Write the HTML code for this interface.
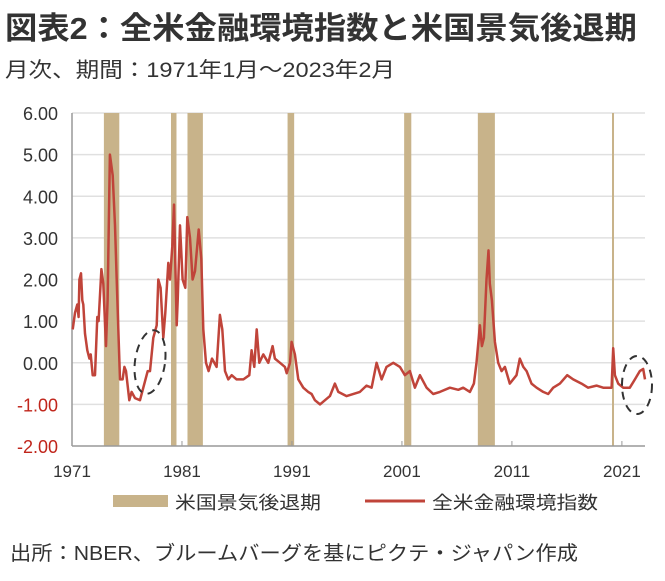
<!DOCTYPE html>
<html><head><meta charset="utf-8"><style>
body{margin:0;background:#fff}
svg{display:block;font-family:"Liberation Sans","Noto Sans CJK JP",sans-serif}
</style></head><body>
<svg id="chart" width="665" height="581" viewBox="0 0 665 581" xmlns="http://www.w3.org/2000/svg">
<text x="5" y="39" font-size="31" font-weight="bold" fill="#333" textLength="632" lengthAdjust="spacingAndGlyphs">図表2：全米金融環境指数と米国景気後退期</text>
<text x="5" y="77" font-size="21" fill="#333" textLength="390" lengthAdjust="spacingAndGlyphs">月次、期間：1971年1月～2023年2月</text>
<g id="grid"></g><g id="bands"></g><g id="axes"></g><g id="series"></g>
<ellipse cx="150" cy="362" rx="15" ry="32" transform="rotate(8 150 362)" fill="none" stroke="#333" stroke-width="2" stroke-dasharray="8,6"/>
<ellipse cx="637" cy="385" rx="15" ry="29" fill="none" stroke="#333" stroke-width="2" stroke-dasharray="8,6"/>
<g>
<rect x="113" y="495" width="55" height="12" fill="#c8b38a"/>
<text x="175" y="509" font-size="18" fill="#333" textLength="146" lengthAdjust="spacingAndGlyphs">米国景気後退期</text>
<line x1="365" y1="501" x2="425" y2="501" stroke="#c0443a" stroke-width="3"/>
<text x="432" y="509" font-size="18" fill="#333" textLength="166" lengthAdjust="spacingAndGlyphs">全米金融環境指数</text>
</g>
<text x="10" y="560" font-size="20" fill="#333" textLength="568" lengthAdjust="spacingAndGlyphs">出所：NBER、ブルームバーグを基にピクテ・ジャパン作成</text>
</svg>
<script>
const yTicks=[6,5,4,3,2,1,0,-1,-2];
const yTickLabels=["6.00","5.00","4.00","3.00","2.00","1.00","0.00","-1.00","-2.00"];
const xTicks=[1971,1981,1991,2001,2011,2021];
const recStart=[1973.9,1980.0,1981.5,1990.6,2001.2,2007.9,2020.1];
const recEnd=[1975.3,1980.5,1982.9,1991.2,2001.85,2009.45,2020.25];
const dates=[1971.06,1971.27,1971.48,1971.6,1971.67,1971.82,1971.94,1972.03,1972.18,1972.39,1972.58,1972.7,1972.88,1973.09,1973.3,1973.42,1973.67,1973.85,1974.09,1974.24,1974.45,1974.7,1974.91,1975.06,1975.24,1975.36,1975.6,1975.76,1975.91,1976.21,1976.42,1976.73,1977.18,1977.48,1977.88,1978.09,1978.39,1978.7,1978.85,1979.06,1979.3,1979.48,1979.76,1979.91,1980.12,1980.27,1980.52,1980.61,1980.82,1981.06,1981.3,1981.48,1981.73,1981.97,1982.18,1982.52,1982.76,1982.94,1983.18,1983.42,1983.73,1984.15,1984.45,1984.67,1984.91,1985.21,1985.52,1985.97,1986.58,1987.12,1987.33,1987.58,1987.79,1988.03,1988.39,1988.85,1989.24,1989.45,1989.91,1990.36,1990.52,1990.82,1990.97,1991.27,1991.58,1992.03,1992.48,1992.79,1993.09,1993.55,1994.0,1994.45,1994.9,1995.21,1995.97,1997.18,1997.78,1998.24,1998.7,1999.15,1999.6,2000.21,2000.81,2001.27,2001.72,2002.18,2002.63,2003.24,2003.84,2004.45,2005.36,2006.12,2006.57,2007.18,2007.54,2007.78,2008.09,2008.27,2008.45,2008.69,2008.87,2008.99,2009.18,2009.45,2009.75,2010.06,2010.36,2010.81,2011.42,2011.72,2012.03,2012.33,2012.78,2013.24,2013.84,2014.3,2014.75,2015.36,2016.03,2016.57,2017.33,2017.93,2018.69,2019.3,2020.06,2020.21,2020.36,2020.66,2021.12,2021.72,2022.18,2022.63,2022.94,2023.1];
const values=[0.8,1.2,1.4,1.1,2.0,2.15,1.5,1.4,0.7,0.3,0.1,0.2,-0.3,-0.3,1.1,1.0,2.25,1.9,0.4,1.5,5.0,4.5,3.3,2.0,0.6,-0.4,-0.4,-0.1,-0.2,-0.9,-0.7,-0.85,-0.9,-0.6,-0.2,-0.2,0.6,0.9,2.0,1.8,0.6,1.2,2.4,2.0,2.8,3.8,0.9,1.5,3.3,2.0,1.8,3.5,3.0,2.0,2.2,3.2,2.5,0.8,0.0,-0.2,0.1,-0.1,1.15,0.8,-0.2,-0.4,-0.3,-0.4,-0.4,-0.3,0.3,-0.1,0.8,0.0,0.2,0.0,0.4,0.1,0.0,-0.1,-0.25,0.0,0.5,0.2,-0.4,-0.6,-0.7,-0.75,-0.9,-1.0,-0.9,-0.8,-0.5,-0.7,-0.8,-0.7,-0.55,-0.6,0.0,-0.4,-0.1,0.0,-0.1,-0.3,-0.2,-0.6,-0.3,-0.6,-0.75,-0.7,-0.6,-0.65,-0.6,-0.7,-0.5,0.0,0.9,0.4,0.6,2.0,2.7,1.9,1.5,0.5,0.0,-0.2,-0.1,-0.5,-0.3,0.1,-0.1,-0.2,-0.5,-0.6,-0.7,-0.75,-0.6,-0.5,-0.3,-0.4,-0.5,-0.6,-0.55,-0.6,-0.6,0.35,-0.3,-0.5,-0.6,-0.6,-0.4,-0.2,-0.15,-0.4];
const X0=72,X1=645,Y0=113,Y1=446,T0=1971,T1=2023.1,V0=-2,V1=6;
const xs=t=>X0+(t-T0)/(T1-T0)*(X1-X0);
const ys=v=>Y1-(v-V0)/(V1-V0)*(Y1-Y0);
const NS="http://www.w3.org/2000/svg";
function mk(tag,parent,attrs){const e=document.createElementNS(NS,tag);for(const k in attrs)e.setAttribute(k,attrs[k]);document.getElementById(parent).appendChild(e);return e;}
yTicks.forEach((v,i)=>{
  if(v>V0){const g=mk('line','grid',{x1:X0,x2:X1,y1:ys(v),y2:ys(v),stroke:'#e0e0e0','stroke-width':1.5});
  
  }
  const t=mk('text','axes',{x:58,y:ys(v)+7,'text-anchor':'end','font-size':18,fill:v<0?'#c0251b':'#333'});
  t.textContent=yTickLabels[i];
  
  
});
recStart.forEach((s,i)=>{
  const r=mk('rect','bands',{x:xs(s),y:Y0,width:Math.max(2,xs(recEnd[i])-xs(s)),height:Y1-Y0,fill:'#c8b38a'});
  
  
});
const ax=mk('line','axes',{x1:X0,x2:X1,y1:Y1,y2:Y1,stroke:'#999','stroke-width':1.5});


const ay=mk('line','axes',{x1:X0,x2:X0,y1:Y0,y2:Y1,stroke:'#999','stroke-width':1.5});


xTicks.forEach(t=>{
  const tk=mk('line','axes',{x1:xs(t),x2:xs(t),y1:Y1,y2:Y1-5,stroke:'#999'});
  
  
  const l=mk('text','axes',{x:xs(t),y:477,'text-anchor':'middle','font-size':17,fill:'#333'});
  l.textContent=t;
  
  
});
const p=mk('polyline','series',{points:dates.map((d,i)=>xs(d).toFixed(1)+','+ys(values[i]).toFixed(1)).join(' '),fill:'none',stroke:'#c0443a','stroke-width':2.5,'stroke-linejoin':'round'});


</script>
</body></html>
